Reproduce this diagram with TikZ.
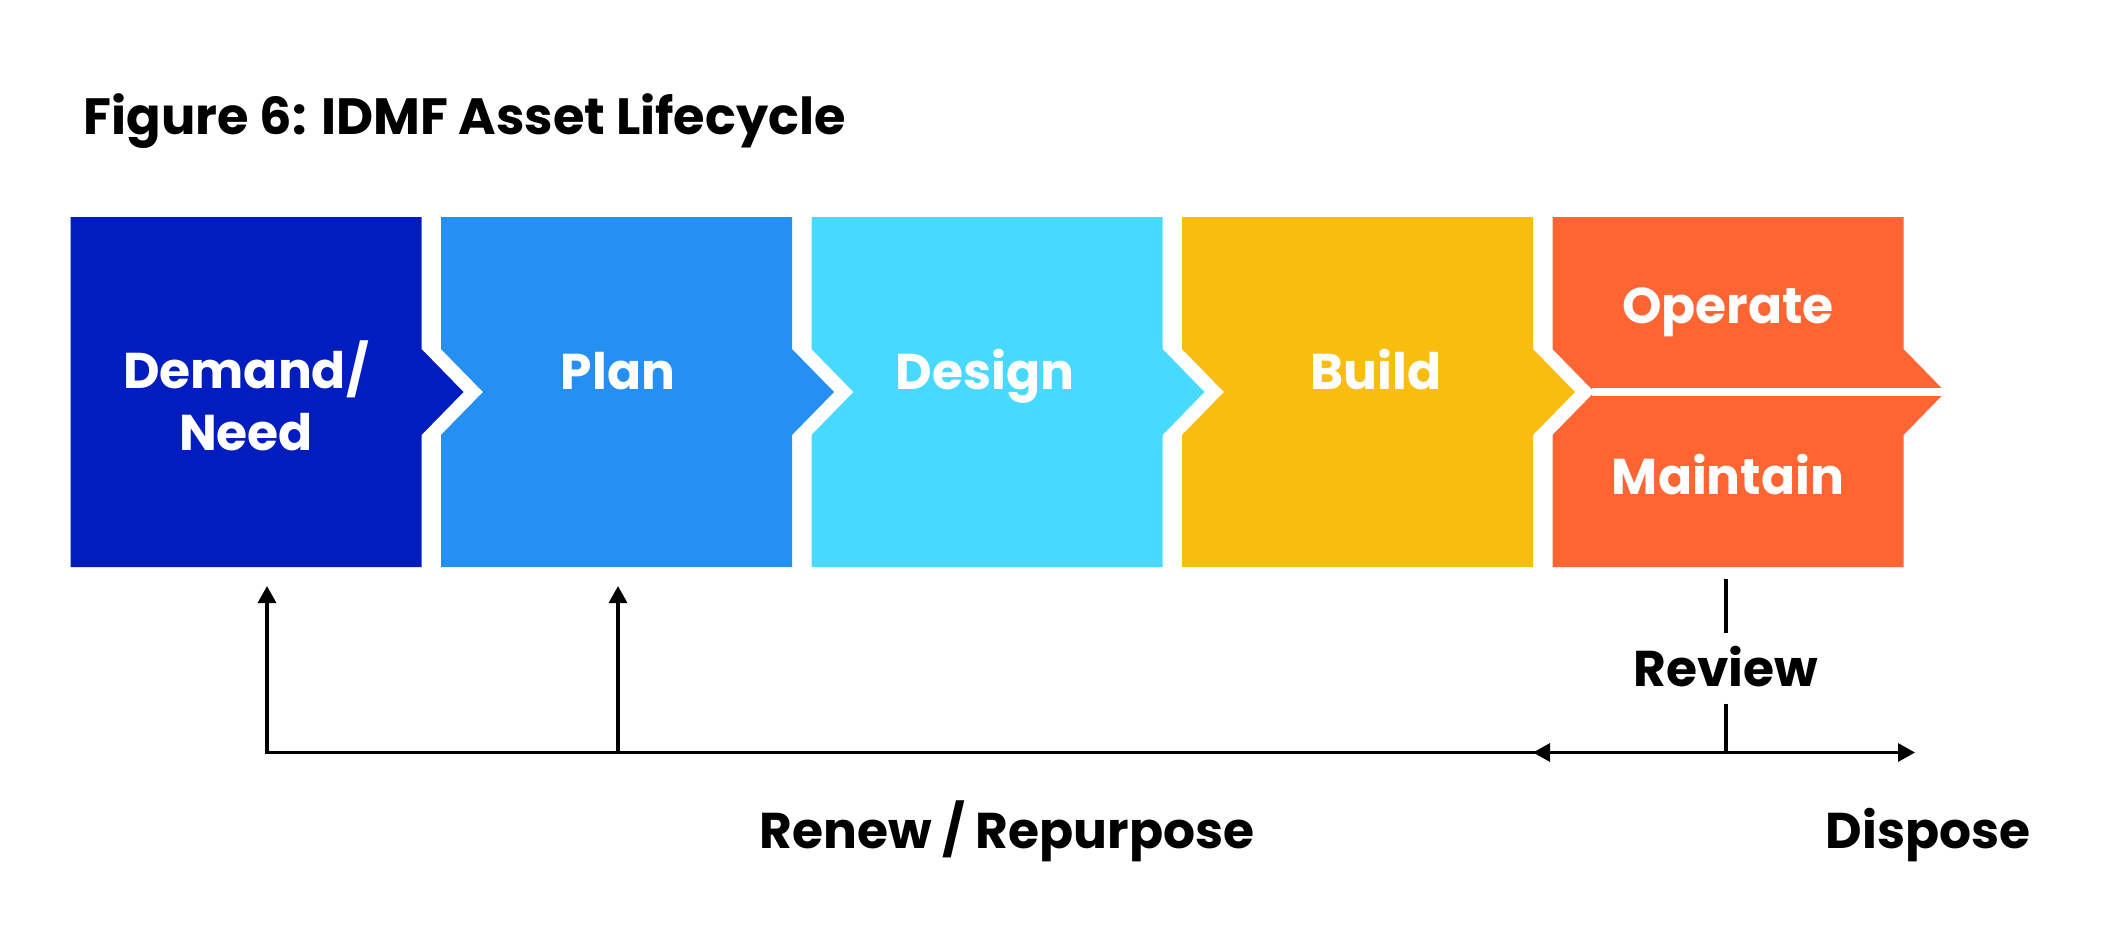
\documentclass[tikz,border=0pt]{standalone}
\usepackage{fontspec}
\setmainfont{Poppins}
\usepackage{xcolor}
\usepackage{tikz}
\usetikzlibrary{arrows.meta}

\definecolor{demandblue}{HTML}{021DBF}
\definecolor{planblue}{HTML}{268FF2}
\definecolor{designcyan}{HTML}{48D9FF}
\definecolor{buildyellow}{HTML}{F8BD0E}
\definecolor{opsorange}{HTML}{FF6433}

\begin{document}
\begin{tikzpicture}[x=0.01cm,y=-0.01cm,>={Triangle[width=0.18cm,length=0.17cm]},line width=0.033cm]

  \tikzstyle{phase}=[text=white,font=\fontsize{14.3}{17.6}\selectfont\bfseries,align=center]
  \tikzstyle{tag}=[font=\fontsize{14.3}{17.6}\selectfont\bfseries]

  \useasboundingbox (0,0) rectangle (2126,945);

  % title
  \node[tag,anchor=base west,font=\fontsize{14.5}{17.6}\selectfont\bfseries] (title) at (70.5,134) {Figure 6: IDMF Asset Lifecycle};

  % chevrons
  \foreach \i/\col in {0/demandblue,1/planblue,2/designcyan,3/buildyellow,4/opsorange} {
    \pgfmathsetmacro\l{70.5+370.5*\i}
    \pgfmathsetmacro\r{\l+351}
    \pgfmathsetmacro\d{\i==0 ? 0 : 42}
    \fill[\col] (\l,217) -- (\r,217) -- (\r,349) -- (\r+42,392) -- (\r,435) -- (\r,567)
      -- (\l,567) -- (\l,435) -- (\l+\d,392) -- (\l,349) -- cycle;
  }

  % split of the last chevron
  \draw[white,line width=0.087cm] (1592,392) -- (1950,392);

  % phases
  \node[phase] (demand) at (246,396) {Demand/\\Need};
  \node[phase,anchor=base] (plan) at (618,389) {Plan};
  \node[phase,anchor=base] (design) at (985,389) {Design};
  \node[phase,anchor=base] (build) at (1376,389) {Build};
  \node[phase,anchor=base] (operate) at (1728,323) {Operate};
  \node[phase,anchor=base] (maintain) at (1728,494) {Maintain};

  % feedback loop
  \coordinate (loop) at (267,752.5);
  \coordinate (demand-in) at (267,586);
  \coordinate (plan-in) at (618,586);
  \coordinate (fork) at (1726,752.5);
  \coordinate (back) at (1533,752.5);
  \coordinate (dispose-out) at (1915,752.5);
  \coordinate (review-in) at (1726,579);

  \node[tag,text height=0.35cm,text depth=0pt,minimum height=0.67cm] (review) at (1726,668.5) {Review};
  \node[tag,anchor=base] (renew) at (1007,848) {Renew / Repurpose};
  \node[tag,anchor=base] (dispose) at (1928,848) {Dispose};

  \draw[<->] (demand-in) -- (loop) -- (dispose-out);
  \draw[->] (loop -| plan-in) -- (plan-in);
  \draw[->] (fork) -- (back);
  \draw (review-in) -- (review);
  \draw (review) -- (fork);

\end{tikzpicture}
\end{document}
